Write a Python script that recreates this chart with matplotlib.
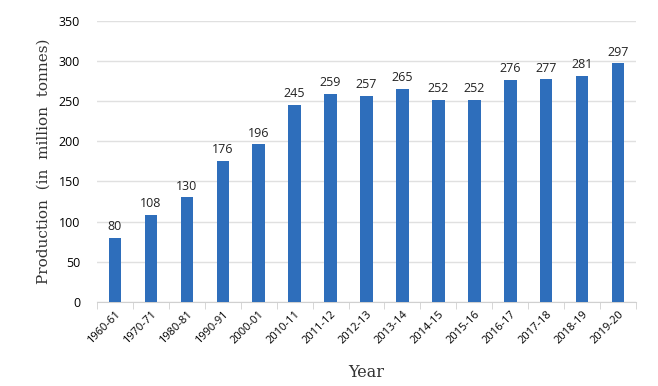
import numpy as np
import matplotlib.pyplot as plt

years = ['1960-61', '1970-71', '1980-81', '1990-91', '2000-01', '2010-11', '2011-12',
         '2012-13', '2013-14', '2014-15', '2015-16', '2016-17', '2017-18', '2018-19', '2019-20']
production = [80, 108, 130, 176, 196, 245, 259, 257, 265, 252, 252, 276, 277, 281, 297]

x = np.arange(len(years))

fig = plt.figure(figsize=(6.58, 3.86), dpi=100)
ax = fig.add_axes([0.147, 0.218, 0.82, 0.728])

bars = ax.bar(x, production, width=0.34, color='#2e6ebb', zorder=3)
for xi, v in zip(x, production):
    ax.text(xi, v + 6, str(v), ha='center', va='bottom', fontsize=9,
            family='Open Sans', color='#222222')

ax.set_xlim(-0.5, len(years) - 0.5)
ax.set_ylim(0, 350)
ax.set_yticks(np.arange(0, 351, 50))
ax.set_xticks(x)
ax.set_xticklabels(years, rotation=45, ha='right', rotation_mode='anchor',
                   fontsize=8, family='Open Sans')
ax.tick_params(axis='x', length=0, pad=5)
ax.set_xticks(np.arange(-0.5, len(years), 1), minor=True)
ax.tick_params(axis='x', which='minor', length=5, color='#d0d0d0')
ax.tick_params(axis='y', length=0, labelsize=9, pad=12)
for lbl in ax.get_yticklabels():
    lbl.set_family('Open Sans')

ax.grid(axis='y', color='#e0e0e0', linewidth=1, zorder=0)
for s in ['top', 'right', 'left']:
    ax.spines[s].set_visible(False)
ax.spines['bottom'].set_color('#d0d0d0')

ax.set_ylabel('Production  (in  million  tonnes)', family='DejaVu Serif',
              fontsize=11, color='#333333', labelpad=6)
ax.set_xlabel('Year', family='DejaVu Serif', fontsize=11.5, color='#333333', labelpad=13)

plt.savefig('out.png', dpi=100)
